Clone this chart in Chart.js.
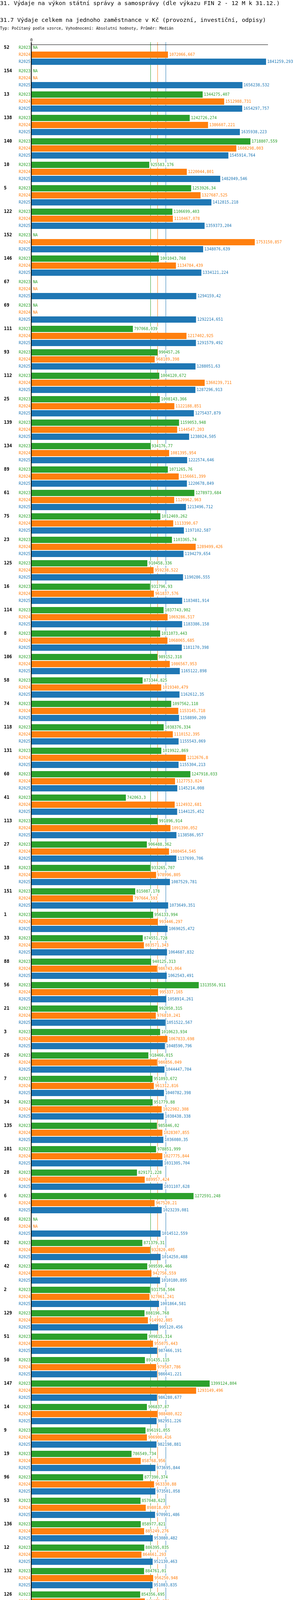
<!DOCTYPE html>
<html>
<head>
<meta charset="utf-8">
<script src="https://cdn.jsdelivr.net/npm/chart.js@4.4.1/dist/chart.umd.min.js"></script>
<style>
  html, body { margin: 0; padding: 0; background: #ffffff; }
  #wrap { width: 750px; height: 5454px; position: relative; }
  canvas { display: block; }
</style>
</head>
<body>
<div id="wrap"><canvas id="c" width="750" height="5454"></canvas></div>
<script>
// ---------------- DATA ----------------
const titleText = '31. Výdaje na výkon státní správy a samosprávy (dle výkazu FIN 2 - 12 M k 31.12.)';
const subtitleText = '31.7 Výdaje celkem na jednoho zaměstnance v Kč (provozní, investiční, odpisy)';
const typeText = 'Typ: Počítaný podle vzorce, Vyhodnocení: Absolutní hodnoty, Průměr: Medián';

const seriesNames = ['R2023', 'R2024', 'R2025'];
const seriesTitles = ['Období[R2023]: Realita - 2023', 'Období[R2024]: Realita - 2024', 'Období[R2025]: Realita - 2025'];
const seriesColors = ['#2ca02c', '#ff7f0e', '#1f77b4'];
const highlightedCategory = '90';
const zeroTickLabel = '0';

const categories = ['52','154','13','138','140','10','5','122','152','146','67','69','111','93','112','25','139','134','89','61','75','23','125','16','114','8','106','58','74','118','131','60','41','113','27','18','151','1','33','88','56','21','3','26','7','34','135','101','28','6','68','82','42','2','129','51','50','147','14','9','19','96','53','136','12','132','126','102','86','100','141','43','144','153','121','155','130','39','145','85','90','115','15','1000','9999','76','84'];

const r2023 = [null,null,1344275.407,1242726.274,1718807.559,925583.176,1253926.34,1106699.403,null,1001043.768,null,null,797068.039,990457.26,1004120.672,1008143.366,1159053.948,934176.77,1071265.76,1278973.684,1012469.262,1103365.74,910458.336,931796.93,1037743.902,1011073.443,989152.318,873344.825,1097562.118,1038376.334,1019922.869,1247918.033,742063.3,991896.914,906488.362,933265.707,815087.178,956133.994,874551.728,940125.313,1313556.911,992050.315,1010623.934,918466.015,951093.672,951779.88,985846.02,978851.999,829171.228,1272591.248,null,871379.31,909599.466,931758.504,888196.768,909815.314,891435.115,1399124.804,906837.87,896191.055,786549.734,877390.374,857048.623,858977.821,886395.035,884761.01,854356.695,895271.701,770167.857,null,843418.936,824623.853,1091346.664,null,838136.002,null,828774.29,830307.445,819451.639,834271.318,901168.415,726156.839,1024582.566,null,null,1578225.251,null];

const r2024 = [1072066.667,null,1512988.731,1386607.221,1608298.003,1220044.801,1327687.525,1110467.078,1753150.857,1134784.439,null,null,1217402.925,968189.398,1360239.711,1122188.851,1144547.203,1081395.954,1156661.399,1120962.963,1113390.67,1289499.426,959238.522,961837.576,1069286.517,1068065.685,1086567.953,1019340.479,1153145.718,1110152.395,1212676.8,1127753.024,1124932.681,1091390.052,1080454.545,978996.805,797664.593,993446.297,883571.343,986743.064,995337.165,976810.241,1067833.698,986856.049,961312.816,1022982.308,1028307.855,1027775.844,889957.424,967520.21,null,932820.405,942756.559,927061.241,914992.885,955075.443,979587.786,1293149.496,988480.022,906900.416,858768.956,963330.88,898018.097,885249.276,864661.293,956250.948,890873.379,975143.351,817210.897,954011.828,859153.418,851373.08,1133006.264,929442.034,873494.118,null,851148.936,923744.77,977496.265,846523.147,804679.178,814122.141,1044819.369,null,null,null,1267076.796];

const r2025 = [1841259.293,1656238.532,1654297.757,1635938.223,1545914.764,1482049.546,1412815.218,1359373.204,1348076.639,1334121.224,1294159.42,1292214.651,1291579.492,1288051.63,1287296.913,1275437.879,1238024.505,1222574.646,1220678.849,1213496.712,1197102.587,1194279.654,1190286.555,1183481.914,1183386.158,1181170.398,1165122.898,1162612.35,1158890.209,1155543.069,1155304.213,1145214.008,1144125.452,1138586.957,1137699.706,1087529.781,1073649.351,1069025.472,1064687.832,1062543.491,1058914.261,1051522.567,1048590.796,1044447.704,1040782.398,1038438.338,1036080.35,1031305.704,1031107.628,1023239.081,1014512.559,1014250.488,1010180.895,1001864.581,995120.456,987466.191,986641.221,986280.677,982951.226,982198.881,973695.844,973501.058,970901.486,953080.482,952130.463,951083.835,949631.28,949573.074,944584.207,943365.591,942395.383,939900.317,935913.799,927667.32,926681.818,911359.375,909070.677,906734.743,904416.839,904275.128,890956.657,846883.755,null,null,null,null,null];

const seriesData = [r2023, r2024, r2025];

// ---------------- HELPERS ----------------
function fmt(v) {
  return (Math.round(v * 1000) / 1000).toString().replace('.', ',');
}
function stats(arr) {
  const v = arr.filter(x => x !== null).slice().sort((a, b) => a - b);
  const n = v.length;
  const med = n % 2 ? v[(n - 1) / 2] : (v[n / 2 - 1] + v[n / 2]) / 2;
  return { median: med, min: v[0], max: v[n - 1] };
}
const seriesStats = seriesData.map(stats);
const dataMax = Math.max(...seriesStats.map(s => s.max));

const SMALL = '11px "DejaVu Sans Mono"';
const SMALL_SX = 0.906;
const BOLD = 'bold 11.5px "DejaVu Sans Mono"';
const BIG = '14.7px "DejaVu Sans Mono"';

function txt(ctx, s, x, y, font, color, align, sx) {
  ctx.save();
  ctx.font = font;
  ctx.fillStyle = color;
  ctx.textBaseline = 'middle';
  ctx.textAlign = align || 'left';
  ctx.translate(x, y);
  ctx.scale(sx || 1, 1);
  ctx.fillText(s, 0, 0);
  ctx.restore();
}
function txtWidth(ctx, s, font, sx) {
  ctx.save();
  ctx.font = font;
  const w = ctx.measureText(s).width * (sx || 1);
  ctx.restore();
  return w;
}

// ---------------- DECORATION PLUGIN ----------------
const deco = {
  id: 'deco',
  beforeDraw(chart) {
    const ctx = chart.ctx;
    ctx.save();
    ctx.fillStyle = '#ffffff';
    ctx.fillRect(0, 0, chart.width, chart.height);
    ctx.restore();
  },
  beforeDatasetsDraw(chart) {
    const ctx = chart.ctx;
    const area = chart.chartArea;
    const xs = chart.scales.x;
    const top = area.top - 2;
    const bottom = area.bottom + 5;
    ctx.save();
    seriesStats.forEach((s, d) => {
      const x = Math.round(xs.getPixelForValue(s.median));
      ctx.fillStyle = seriesColors[d];
      ctx.fillRect(x, top, 1, bottom - top);
    });
    ctx.restore();
  },
  afterDatasetsDraw(chart) {
    const ctx = chart.ctx;
    const area = chart.chartArea;
    const xs = chart.scales.x;
    const ys = chart.scales.y;
    const zeroX = xs.getPixelForValue(0);
    const catH = ys.getPixelForValue(1) - ys.getPixelForValue(0);
    const pitch = catH * 0.9 / 3;

    categories.forEach((cat, i) => {
      const cy = ys.getPixelForValue(i);
      seriesData.forEach((arr, d) => {
        const rowY = cy + (d - 1) * pitch;
        const v = arr[i];
        if (v === null) {
          txt(ctx, 'NA', zeroX + 4.5, rowY, SMALL, seriesColors[d], 'left', SMALL_SX);
        } else {
          const s = fmt(v);
          const lx = xs.getPixelForValue(v) + 3;
          const w = txtWidth(ctx, s, SMALL, SMALL_SX);
          ctx.save();
          ctx.fillStyle = '#ffffff';
          ctx.fillRect(lx - 1, rowY - 6, w + 2, 12);
          ctx.restore();
          txt(ctx, s, lx, rowY, SMALL, seriesColors[d], 'left', SMALL_SX);
        }
        txt(ctx, seriesNames[d], zeroX - 2, rowY, SMALL, seriesColors[d], 'right', SMALL_SX);
      });
      const gy = cy - pitch;
      txt(ctx, cat, 10, gy, BOLD, cat === highlightedCategory ? '#ff0000' : '#000000', 'left', 1);
    });

    ctx.save();
    ctx.fillStyle = '#000000';
    ctx.fillRect(zeroX - 1, area.top - 2, 2, area.bottom + 5 - (area.top - 2));
    ctx.fillRect(zeroX, area.top + 4, 606, 1);
    ctx.restore();
    txt(ctx, zeroTickLabel, zeroX + 0.5, area.top - 7, SMALL, '#000000', 'center', SMALL_SX);
  },
  afterDraw(chart) {
    const ctx = chart.ctx;
    const area = chart.chartArea;
    txt(ctx, titleText, 0, 9, BIG, '#000000', 'left', 1);
    txt(ctx, subtitleText, 0, 52.5, BIG, '#000000', 'left', 1);
    txt(ctx, typeText, 0, 73, SMALL, '#000000', 'left', SMALL_SX);

    const lx = 79;
    const base = area.bottom + 26;
    txt(ctx, seriesTitles[0], lx, base, SMALL, seriesColors[0], 'left', SMALL_SX);
    txt(ctx, seriesTitles[1], 379, base, SMALL, seriesColors[1], 'left', SMALL_SX);
    txt(ctx, seriesTitles[2], lx, base + 20, SMALL, seriesColors[2], 'left', SMALL_SX);
    seriesStats.forEach((s, d) => {
      const y = base + 40 + d * 20;
      txt(ctx, 'Medián: ' + fmt(s.median), lx, y, SMALL, seriesColors[d], 'left', SMALL_SX);
      txt(ctx, 'Min: ' + fmt(s.min), 329, y, SMALL, seriesColors[d], 'left', SMALL_SX);
      txt(ctx, 'Max: ' + fmt(s.max), 529, y, SMALL, seriesColors[d], 'left', SMALL_SX);
    });
  }
};

// ---------------- CHART ----------------
new Chart(document.getElementById('c'), {
  type: 'bar',
  data: {
    labels: categories,
    datasets: seriesData.map((arr, d) => ({
      label: seriesNames[d],
      data: arr,
      backgroundColor: seriesColors[d],
      borderWidth: 0,
      categoryPercentage: 0.9,
      barPercentage: 16 / 18
    }))
  },
  options: {
    indexAxis: 'y',
    responsive: false,
    animation: false,
    events: [],
    layout: { padding: { left: 80, right: 69, top: 110, bottom: 124 } },
    scales: {
      x: { type: 'linear', min: 0, max: dataMax, display: false, grid: { display: false } },
      y: { type: 'category', display: false, offset: true, grid: { display: false } }
    },
    plugins: {
      legend: { display: false },
      tooltip: { enabled: false },
      title: { display: false }
    }
  },
  plugins: [deco]
});
</script>
</body>
</html>
